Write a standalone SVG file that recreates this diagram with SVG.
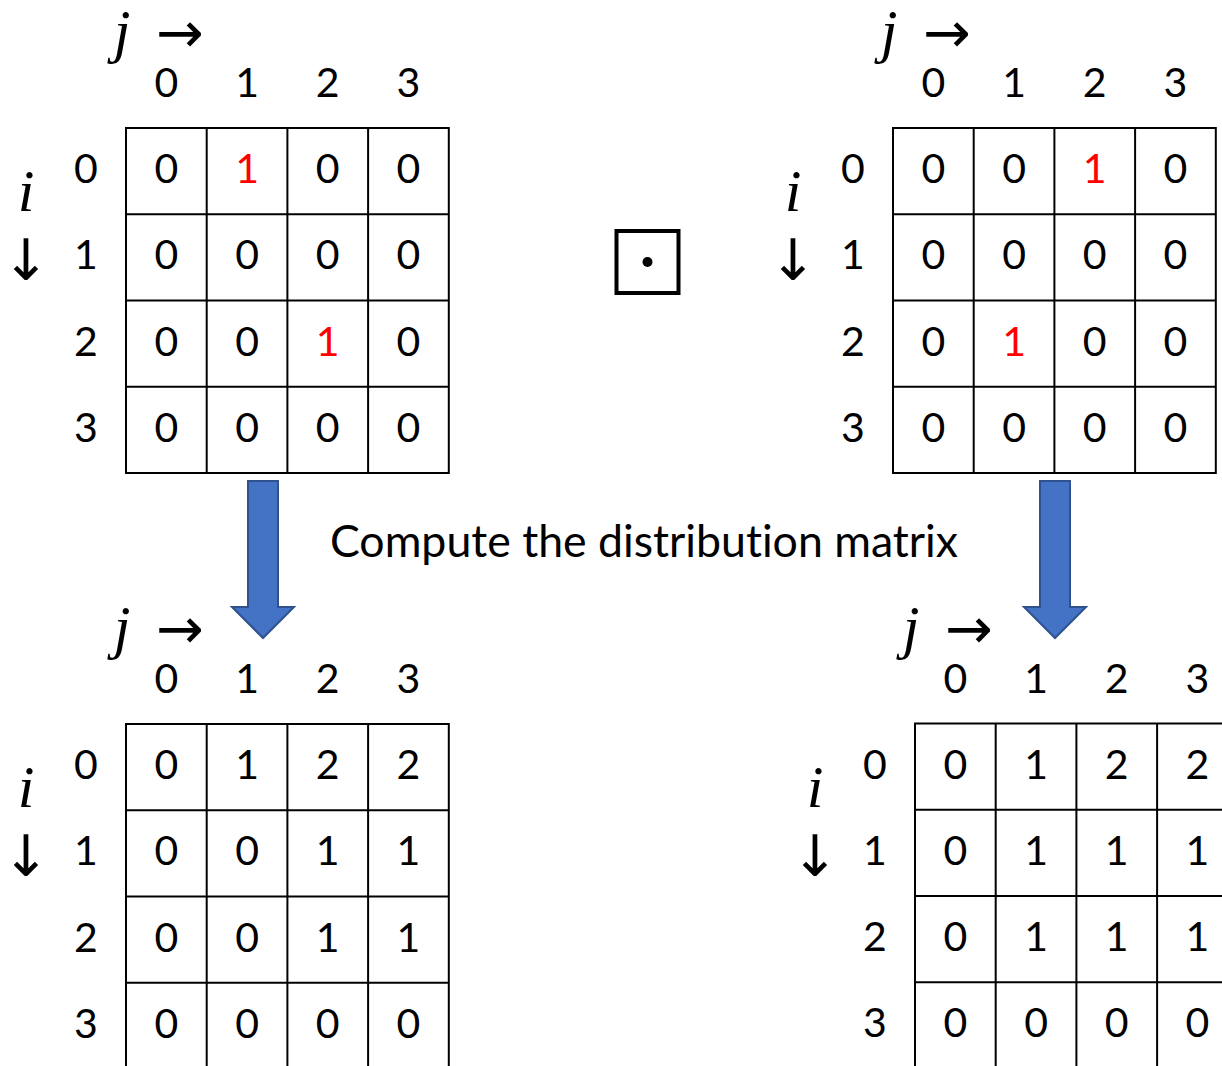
<svg xmlns="http://www.w3.org/2000/svg" width="1222" height="1066" viewBox="0 0 1222 1066">
  <style>
    .grid line, .grid rect { stroke: #000; stroke-width: 2; fill: none; }
    .num { font-family: Lato, "Open Sans", sans-serif; font-size: 41px; fill: #000; text-anchor: middle; }
    .red { fill: #FF0000; }
    .var { font-family: "Liberation Serif", serif; font-style: italic; font-size: 60px; fill: #000; text-anchor: middle; }
    .arr { font-family: "DejaVu Sans", sans-serif; font-size: 57px; fill: #000; text-anchor: middle; }
    .caption { font-family: Lato, "Open Sans", sans-serif; font-size: 45px; fill: #000; font-variant-ligatures: none; }
    .block { fill: #4472C4; stroke: #2F528F; stroke-width: 2; }
  </style>

  <defs>
    <!-- 4x4 cell grid, 80.7 x 86.25 cells -->
    <g id="cells" class="grid">
      <rect x="0" y="0" width="322.8" height="345"/>
      <line x1="80.7" y1="0" x2="80.7" y2="345"/>
      <line x1="161.4" y1="0" x2="161.4" y2="345"/>
      <line x1="242.1" y1="0" x2="242.1" y2="345"/>
      <line x1="0" y1="86.25" x2="322.8" y2="86.25"/>
      <line x1="0" y1="172.5" x2="322.8" y2="172.5"/>
      <line x1="0" y1="258.75" x2="322.8" y2="258.75"/>
    </g>
    <!-- axis labels: j with column indices, i with row indices -->
    <g id="axes">
      <text class="var" x="-4" y="-77">j</text>
      <text class="arr" x="54" y="-76">→</text>
      <text class="num" x="40.35" y="-31">0</text>
      <text class="num" x="121.05" y="-31">1</text>
      <text class="num" x="201.75" y="-31">2</text>
      <text class="num" x="282.45" y="-31">3</text>
      <text class="var" x="-100" y="83">i</text>
      <text class="arr" x="-100" y="152">↓</text>
      <text class="num" x="-40" y="55">0</text>
      <text class="num" x="-40" y="141.25">1</text>
      <text class="num" x="-40" y="227.5">2</text>
      <text class="num" x="-40" y="313.75">3</text>
    </g>
  </defs>

  <!-- input matrix A -->
  <g id="matrix-a" transform="translate(126,128)">
    <use href="#axes"/>
    <use href="#cells"/>
    <g class="num">
      <text x="40.35" y="55">0</text><text x="121.05" y="55" class="num red">1</text><text x="201.75" y="55">0</text><text x="282.45" y="55">0</text>
      <text x="40.35" y="141.25">0</text><text x="121.05" y="141.25">0</text><text x="201.75" y="141.25">0</text><text x="282.45" y="141.25">0</text>
      <text x="40.35" y="227.5">0</text><text x="121.05" y="227.5">0</text><text x="201.75" y="227.5" class="num red">1</text><text x="282.45" y="227.5">0</text>
      <text x="40.35" y="313.75">0</text><text x="121.05" y="313.75">0</text><text x="201.75" y="313.75">0</text><text x="282.45" y="313.75">0</text>
    </g>
  </g>

  <!-- square-dot operator -->
  <g id="operator">
    <rect x="616.5" y="231" width="62" height="62" fill="none" stroke="#000" stroke-width="4"/>
    <circle cx="647.5" cy="262" r="5" fill="#000"/>
  </g>

  <!-- input matrix B -->
  <g id="matrix-b" transform="translate(893,128)">
    <use href="#axes"/>
    <use href="#cells"/>
    <g class="num">
      <text x="40.35" y="55">0</text><text x="121.05" y="55">0</text><text x="201.75" y="55" class="num red">1</text><text x="282.45" y="55">0</text>
      <text x="40.35" y="141.25">0</text><text x="121.05" y="141.25">0</text><text x="201.75" y="141.25">0</text><text x="282.45" y="141.25">0</text>
      <text x="40.35" y="227.5">0</text><text x="121.05" y="227.5" class="num red">1</text><text x="201.75" y="227.5">0</text><text x="282.45" y="227.5">0</text>
      <text x="40.35" y="313.75">0</text><text x="121.05" y="313.75">0</text><text x="201.75" y="313.75">0</text><text x="282.45" y="313.75">0</text>
    </g>
  </g>

  <!-- block arrows and caption -->
  <g id="connectors">
    <polygon class="block" points="248,481 278,481 278,607 294,607 263,638 232,607 248,607"/>
    <polygon class="block" points="1040,481 1070,481 1070,607 1086,607 1055,638 1024,607 1040,607"/>
  </g>
  <text id="caption" class="caption" x="330" y="557" textLength="628" lengthAdjust="spacingAndGlyphs">Compute the distribution matrix</text>

  <!-- distribution matrix of A -->
  <g id="dist-a" transform="translate(126,724)">
    <use href="#axes"/>
    <use href="#cells"/>
    <g class="num">
      <text x="40.35" y="55">0</text><text x="121.05" y="55">1</text><text x="201.75" y="55">2</text><text x="282.45" y="55">2</text>
      <text x="40.35" y="141.25">0</text><text x="121.05" y="141.25">0</text><text x="201.75" y="141.25">1</text><text x="282.45" y="141.25">1</text>
      <text x="40.35" y="227.5">0</text><text x="121.05" y="227.5">0</text><text x="201.75" y="227.5">1</text><text x="282.45" y="227.5">1</text>
      <text x="40.35" y="313.75">0</text><text x="121.05" y="313.75">0</text><text x="201.75" y="313.75">0</text><text x="282.45" y="313.75">0</text>
    </g>
  </g>

  <!-- distribution matrix of B -->
  <g id="dist-b" transform="translate(915,723.5)">
    <use href="#axes"/>
    <use href="#cells"/>
    <g class="num">
      <text x="40.35" y="55">0</text><text x="121.05" y="55">1</text><text x="201.75" y="55">2</text><text x="282.45" y="55">2</text>
      <text x="40.35" y="141.25">0</text><text x="121.05" y="141.25">1</text><text x="201.75" y="141.25">1</text><text x="282.45" y="141.25">1</text>
      <text x="40.35" y="227.5">0</text><text x="121.05" y="227.5">1</text><text x="201.75" y="227.5">1</text><text x="282.45" y="227.5">1</text>
      <text x="40.35" y="313.75">0</text><text x="121.05" y="313.75">0</text><text x="201.75" y="313.75">0</text><text x="282.45" y="313.75">0</text>
    </g>
  </g>
</svg>
